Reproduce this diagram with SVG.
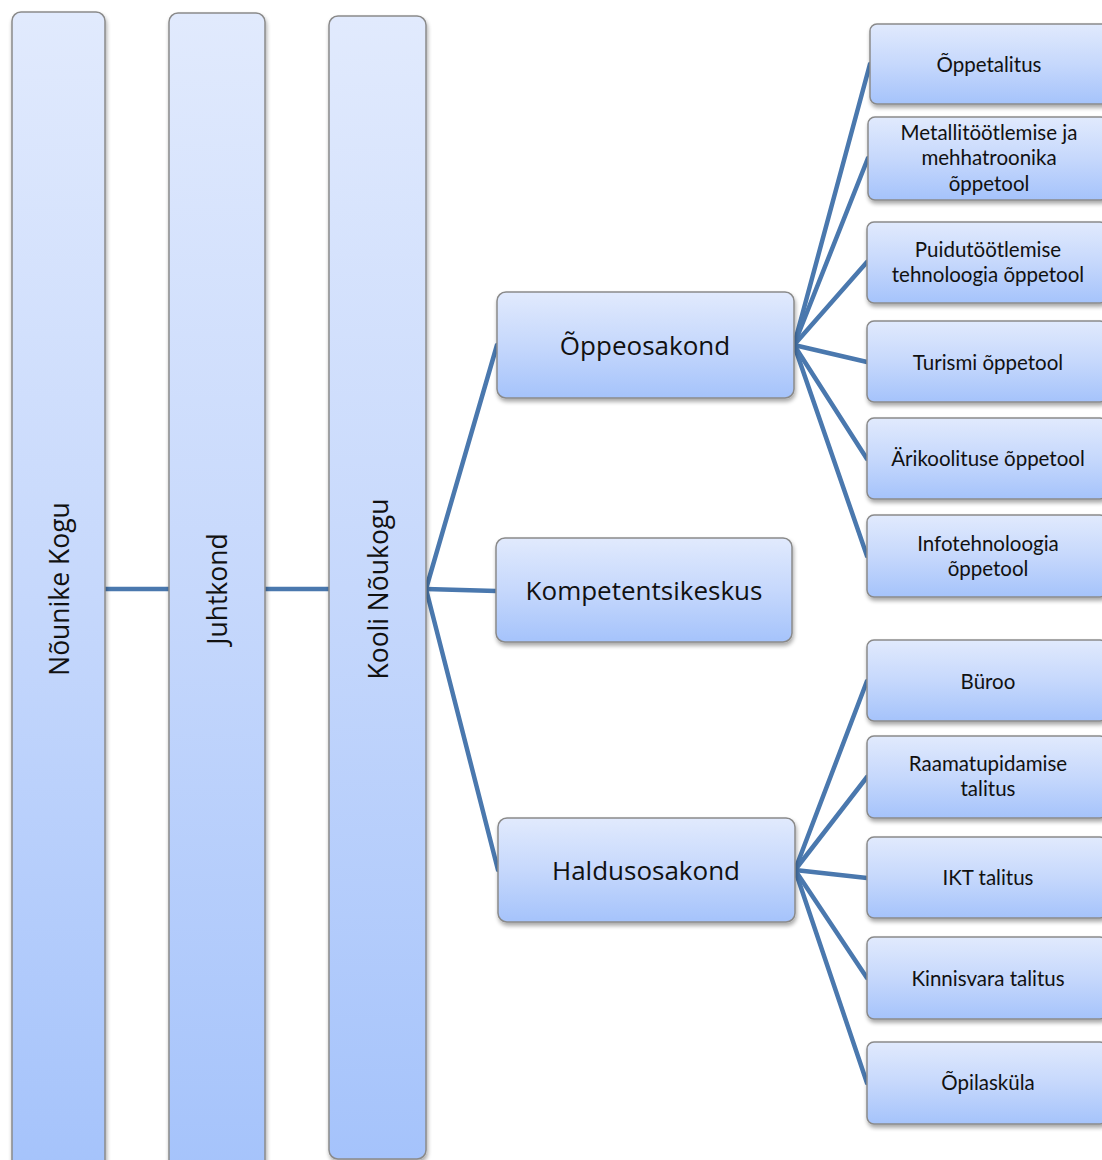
<svg xmlns="http://www.w3.org/2000/svg" width="1102" height="1160" viewBox="0 0 1102 1160">
<defs>
<linearGradient id="g" x1="0" y1="0" x2="0" y2="1">
<stop offset="0" stop-color="#e1eafd"/>
<stop offset="0.5" stop-color="#c6d8fc"/>
<stop offset="1" stop-color="#a5c3fb"/>
</linearGradient>
<filter id="sh" x="-10%" y="-10%" width="120%" height="130%">
<feGaussianBlur in="SourceAlpha" stdDeviation="2"/>
<feOffset dx="1" dy="3" result="b"/>
<feComponentTransfer><feFuncA type="linear" slope="0.35"/></feComponentTransfer>
<feMerge><feMergeNode/><feMergeNode in="SourceGraphic"/></feMerge>
</filter>
</defs>
<style>
.box{fill:url(#g);stroke:#8a8a8a;stroke-width:1.5;filter:url(#sh)}
.c{fill:none;stroke:#4a78ae;stroke-width:4.5;stroke-linecap:round}
text{font-family:"Open Sans","Liberation Sans",sans-serif;fill:#111;text-anchor:middle;dominant-baseline:central}
.big{font-size:26.5px}
.mid{font-size:26px}
.sm{font-family:Lato,"Open Sans",sans-serif;font-size:20.5px}
</style>
<rect width="1102" height="1160" fill="#fff"/>
<g id="connectors">
<line class="c" x1="105" y1="589" x2="169" y2="589"/>
<line class="c" x1="265" y1="589" x2="329" y2="589"/>
<line class="c" x1="426" y1="589" x2="497" y2="345"/>
<line class="c" x1="426" y1="589" x2="496" y2="591"/>
<line class="c" x1="426" y1="589" x2="498" y2="870"/>
<line class="c" x1="794" y1="345" x2="870" y2="64"/>
<line class="c" x1="794" y1="345" x2="868" y2="158"/>
<line class="c" x1="794" y1="345" x2="867" y2="262"/>
<line class="c" x1="794" y1="345" x2="867" y2="362"/>
<line class="c" x1="794" y1="345" x2="867" y2="459"/>
<line class="c" x1="794" y1="345" x2="867" y2="556"/>
<line class="c" x1="795" y1="870" x2="867" y2="681"/>
<line class="c" x1="795" y1="870" x2="867" y2="777"/>
<line class="c" x1="795" y1="870" x2="867" y2="878"/>
<line class="c" x1="795" y1="870" x2="867" y2="978"/>
<line class="c" x1="795" y1="870" x2="867" y2="1083"/>
</g>
<g id="n1"><rect class="box" x="12" y="12" width="93" height="1160" rx="9"/><text class="big" transform="translate(59,589) rotate(-90)">Nõunike Kogu</text></g>
<g id="n2"><rect class="box" x="169" y="13" width="96" height="1160" rx="9"/><text class="big" transform="translate(217,589) rotate(-90)">Juhtkond</text></g>
<g id="n3"><rect class="box" x="329" y="16" width="97" height="1143" rx="9"/><text class="big" transform="translate(378,589) rotate(-90)">Kooli Nõukogu</text></g>
<g id="n4"><rect class="box" x="497" y="292" width="297" height="106" rx="9"/><text class="mid" x="645" y="345">Õppeosakond</text></g>
<g id="n5"><rect class="box" x="496" y="538" width="296" height="104" rx="9"/><text class="mid" x="644" y="590">Kompetentsikeskus</text></g>
<g id="n6"><rect class="box" x="498" y="818" width="297" height="104" rx="9"/><text class="mid" x="646" y="870">Haldusosakond</text></g>
<g id="n7"><rect class="box" x="870" y="24" width="240" height="80" rx="7"/><text class="sm" x="989" y="64">Õppetalitus</text></g>
<g id="n8"><rect class="box" x="868" y="117" width="240" height="83" rx="7"/><text class="sm" x="989" y="132">Metallitöötlemise ja</text><text class="sm" x="989" y="157">mehhatroonika</text><text class="sm" x="989" y="183">õppetool</text></g>
<g id="n9"><rect class="box" x="867" y="222" width="240" height="81" rx="7"/><text class="sm" x="988" y="249">Puidutöötlemise</text><text class="sm" x="988" y="274">tehnoloogia õppetool</text></g>
<g id="n10"><rect class="box" x="867" y="321" width="240" height="81" rx="7"/><text class="sm" x="988" y="362">Turismi õppetool</text></g>
<g id="n11"><rect class="box" x="867" y="418" width="240" height="81" rx="7"/><text class="sm" x="988" y="458">Ärikoolituse õppetool</text></g>
<g id="n12"><rect class="box" x="867" y="515" width="240" height="82" rx="7"/><text class="sm" x="988" y="543">Infotehnoloogia</text><text class="sm" x="988" y="568">õppetool</text></g>
<g id="n13"><rect class="box" x="867" y="640" width="240" height="81" rx="7"/><text class="sm" x="988" y="681">Büroo</text></g>
<g id="n14"><rect class="box" x="867" y="736" width="240" height="82" rx="7"/><text class="sm" x="988" y="763">Raamatupidamise</text><text class="sm" x="988" y="788">talitus</text></g>
<g id="n15"><rect class="box" x="867" y="837" width="240" height="81" rx="7"/><text class="sm" x="988" y="877">IKT talitus</text></g>
<g id="n16"><rect class="box" x="867" y="937" width="240" height="82" rx="7"/><text class="sm" x="988" y="978">Kinnisvara talitus</text></g>
<g id="n17"><rect class="box" x="867" y="1042" width="240" height="82" rx="7"/><text class="sm" x="988" y="1082">Õpilasküla</text></g>
</svg>
